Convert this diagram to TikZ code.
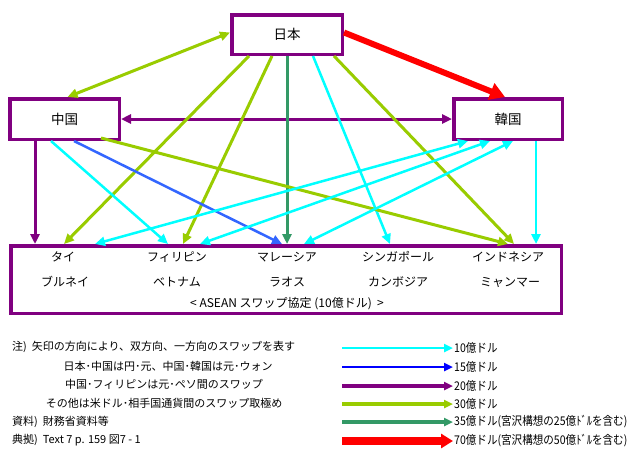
\documentclass[tikz,border=0pt]{standalone}
\usepackage{fontspec}
\setmainfont{Noto Sans CJK JP}
\newfontfamily\condfont[FakeStretch=0.88]{Noto Sans CJK JP}
\usetikzlibrary{arrows.meta}
\definecolor{cpurple}{HTML}{800080}
\definecolor{cyg}{HTML}{99CC00}
\definecolor{ccyan}{HTML}{00FFFF}
\definecolor{cblue}{HTML}{3366FF}
\definecolor{cblueL}{HTML}{0000FF}
\definecolor{cdkg}{HTML}{339966}
\definecolor{cred}{HTML}{FF0000}
\begin{document}
\begin{tikzpicture}[x=1pt,y=-1pt,
  bx/.style={draw=cpurple,line width=3.5pt,fill=white,inner sep=0pt,font=\fontsize{13.5}{15}\selectfont},
  atx/.style={inner sep=0pt,font=\fontsize{12}{14}\selectfont},
  lg/.style={inner sep=1pt,anchor=west,font=\condfont\fontsize{12}{13}\selectfont},
  nt/.style={inner sep=0pt,font=\fontsize{11}{13}\selectfont},
  tp/.style={-{Triangle[length=10pt,width=9pt]}},
  dtp/.style={{Triangle[length=10pt,width=9pt]}-{Triangle[length=10pt,width=9pt]}},
  w10/.style={draw=ccyan,line width=2.5pt},
  w15/.style={draw=cblue,line width=2.5pt},
  w20/.style={draw=cpurple,line width=3pt},
  w30/.style={draw=cyg,line width=3pt},
  w35/.style={draw=cdkg,line width=3pt},
  w70/.style={draw=cred,line width=6pt,-{Triangle[length=15pt,width=17pt]}}
]
\useasboundingbox[fill=white] (0,0) rectangle (631,448);

% boxes
\node[bx,minimum width=110.5pt,minimum height=39.5pt] (jp) at (287,34.5) {日本};
\node[bx,minimum width=109.5pt,minimum height=40.5pt] (cn) at (64.5,119) {中国};
\node[bx,minimum width=108.5pt,minimum height=40.5pt] (kr) at (508,119) {韓国};
\node[bx,minimum width=550.5pt,minimum height=67.5pt] (as) at (286,279.5) {};

% ASEAN texts
\node[atx] (t1) at (63,257) {タイ};
\node[atx] (t2) at (177,257) {フィリピン};
\node[atx] (t3) at (287,257) {マレーシア};
\node[atx] (t4) at (398,257) {シンガポール};
\node[atx] (t5) at (508,257) {インドネシア};
\node[atx] (t6) at (65,282) {ブルネイ};
\node[atx] (t7) at (177,282) {ベトナム};
\node[atx] (t8) at (287,282) {ラオス};
\node[atx] (t9) at (398,282) {カンボジア};
\node[atx] (t10) at (510,282) {ミャンマー};
\node[atx] (tas) at (287,304) {<\ ASEAN スワップ協定 (10億ドル)\ \ >};

% connectors between the top boxes
\draw[w30,dtp] ([xshift=3pt]cn.north) -- ([yshift=2pt]jp.west);
\draw[w70] ([yshift=2pt]jp.east) -- ([xshift=-3pt]kr.north);
\draw[w20,dtp] (cn.east) -- (kr.west);

% Japan to ASEAN
\draw[w30,tp] ([xshift=19pt]jp.south west) -- ([xshift=55pt]as.north west);
\draw[w30,tp] ([xshift=42pt]jp.south west) -- ([xshift=174pt]as.north west);
\draw[w35,tp] (jp.south) -- (jp.south |- as.north);
\draw[w10,tp] ([xshift=83pt]jp.south west) -- ([xshift=381pt]as.north west);
\draw[w30,tp] ([xshift=104pt]jp.south west) -- ([xshift=505pt]as.north west);

% China to ASEAN
\draw[w20,tp] ([xshift=27pt]cn.south west) -- ([xshift=27pt]cn.south west |- as.north);
\draw[w10,tp] ([xshift=43pt]cn.south west) -- ([xshift=159pt]as.north west);
\draw[w15,tp] ([xshift=66pt]cn.south west) -- ([xshift=273pt]as.north west);
\draw[w30,tp] ([xshift=93pt,yshift=3pt]cn.south west) -- ([xshift=499pt]as.north west);

% Korea and ASEAN
\draw[w10,tp] ([xshift=84pt]kr.south west) -- ([xshift=84pt]kr.south west |- as.north);
\draw[w10,dtp] ([xshift=86pt]as.north west) -- ([xshift=16pt]kr.south west);
\draw[w10,dtp] ([xshift=191pt]as.north west) -- ([xshift=38pt]kr.south west);
\draw[w10,dtp] ([xshift=295pt]as.north west) -- ([xshift=61pt]kr.south west);

% notes
\node[nt,anchor=west] (n1) at (12,347) {注)\ \ 矢印の方向により、双方向、一方向のスワップを表す};
\node[nt] (n2) at (168,366) {日本･中国は円･元、中国･韓国は元･ウォン};
\node[nt] (n3) at (164,384) {中国･フィリピンは元･ペソ間のスワップ};
\node[nt] (n4) at (164,403) {その他は米ドル･相手国通貨間のスワップ取極め};
\node[nt,anchor=west] (n5) at (12,422) {資料)\ \ 財務省資料等};
\node[nt,anchor=west] (n6) at (12,440) {典拠)\ \ Text 7 p. 159 図7 - 1};

% legend
\node[lg] (g1) at (453,348) {10億ドル};
\node[lg] (g2) at (453,367) {15億ドル};
\node[lg] (g3) at (453,386) {20億ドル};
\node[lg] (g4) at (453,404) {30億ドル};
\node[lg] (g5) at (453,422) {35億ドル(宮沢構想の25億ﾄﾞﾙを含む)};
\node[lg] (g6) at (453,441) {70億ドル(宮沢構想の50億ﾄﾞﾙを含む)};
\coordinate (s1) at (342,348);
\coordinate (s2) at (342,367);
\coordinate (s3) at (342,386);
\coordinate (s4) at (342,404);
\coordinate (s5) at (342,422);
\coordinate (s6) at (342,441);
\draw[w10,line width=2.7pt,-{Triangle[length=9pt,width=8pt]}] (s1) -- (g1.west);
\draw[draw=cblueL,line width=2.7pt,-{Triangle[length=9pt,width=8pt]}] (s2) -- (g2.west);
\draw[w20,line width=3.3pt,-{Triangle[length=9pt,width=8pt]}] (s3) -- (g3.west);
\draw[w30,line width=3.3pt,-{Triangle[length=9pt,width=8pt]}] (s4) -- (g4.west);
\draw[w35,line width=3.3pt,-{Triangle[length=9pt,width=8pt]}] (s5) -- (g5.west);
\draw[draw=cred,line width=8pt,-{Triangle[length=12pt,width=14pt]}] (s6) -- (g6.west);
\end{tikzpicture}
\end{document}
